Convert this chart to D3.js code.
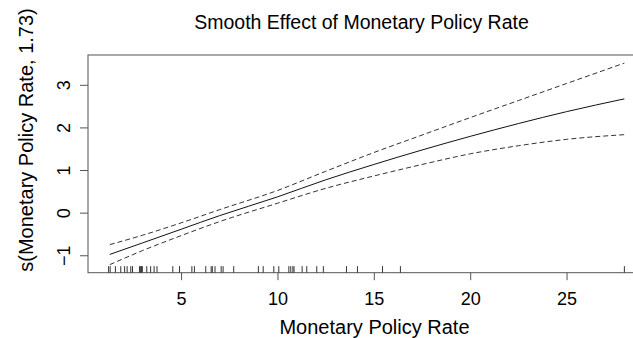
<!DOCTYPE html>
<html>
<head>
<meta charset="utf-8">
<script src="https://cdn.jsdelivr.net/npm/d3@7"></script>
<style>
  html, body { margin: 0; padding: 0; background: #fff; }
  svg { display: block; font-family: "Liberation Sans", Arial, sans-serif; }
</style>
</head>
<body>
<svg id="chart" width="633" height="338"></svg>
<script>
// Grid of the smooth term and its ±2 SE band
const rateGrid = [1.3, 3, 5, 7, 10, 12.5, 15, 17.5, 20, 22.5, 25, 28];
const smoothFit = [-0.98, -0.71, -0.39, -0.07, 0.37, 0.77, 1.13, 1.47, 1.79, 2.09, 2.37, 2.67];
const upperBand = [-0.75, -0.53, -0.24, 0.07, 0.52, 0.97, 1.41, 1.82, 2.23, 2.63, 3.03, 3.51];
const lowerBand = [-1.22, -0.89, -0.54, -0.21, 0.22, 0.57, 0.86, 1.13, 1.38, 1.57, 1.72, 1.83];

// Observed policy rates (rug)
const observedRates = [1.24, 1.32, 1.59, 1.87, 2.07, 2.2, 2.39, 2.48, 2.84, 2.9, 2.95, 2.99,
  3.22, 3.42, 3.6, 3.75, 4.57, 4.92, 5.56, 5.69, 6.28, 6.56, 6.62, 6.76, 7.08, 7.18, 7.73,
  9.01, 9.26, 9.81, 10.07, 10.59, 10.69, 10.8, 10.86, 11.28, 11.52, 12.04, 12.38,
  13.58, 14.15, 15.45, 16.38, 28.0];

const xTicks = [5, 10, 15, 20, 25];
const yTicks = [-1, 0, 1, 2, 3];

const titleText = "Smooth Effect of Monetary Policy Rate";
const xLabel = "Monetary Policy Rate";
const yLabel = "s(Monetary Policy Rate, 1.73)";

const svg = d3.select("#chart");
const plot = { left: 88, top: 55, right: 645, bottom: 272.7 };

// Axis ranges padded by 4% on each side
function padded(lo, hi) { const p = (hi - lo) * 0.04; return [lo - p, hi + p]; }
const xDom = padded(d3.min(observedRates), d3.max(observedRates));
const yDom = padded(d3.min(lowerBand), d3.max(upperBand));

const x = d3.scaleLinear().domain(xDom).range([plot.left, plot.right]);
const y = d3.scaleLinear().domain(yDom).range([plot.bottom, plot.top]);

const axisColor = "#555";
const fontFam = "Liberation Sans, Arial, sans-serif";

// Frame
svg.append("rect")
  .attr("x", plot.left).attr("y", plot.top)
  .attr("width", plot.right - plot.left).attr("height", plot.bottom - plot.top)
  .attr("fill", "none").attr("stroke", axisColor).attr("stroke-width", 1);

// Curves
const line = d3.line().x(d => x(d[0])).y(d => y(d[1])).curve(d3.curveMonotoneX);
const zip = vals => rateGrid.map((r, i) => [r, vals[i]]);

svg.append("path").attr("d", line(zip(smoothFit)))
  .attr("fill", "none").attr("stroke", "#111").attr("stroke-width", 1);
[upperBand, lowerBand].forEach(b => {
  svg.append("path").attr("d", line(zip(b)))
    .attr("fill", "none").attr("stroke", "#333").attr("stroke-width", 1)
    .attr("stroke-dasharray", "5,3");
});

// Rug
const rugLen = (plot.bottom - plot.top) * 0.03;
svg.append("g").selectAll("line").data(observedRates).join("line")
  .attr("x1", d => x(d)).attr("x2", d => x(d))
  .attr("y1", plot.bottom).attr("y2", plot.bottom - rugLen)
  .attr("stroke", "#333").attr("stroke-width", 1);

// X axis
const xAxis = svg.append("g").attr("transform", `translate(0,${plot.bottom})`)
  .call(d3.axisBottom(x).tickValues(xTicks).tickFormat(d3.format("d"))
    .tickSize(7.5).tickSizeOuter(0));
xAxis.select(".domain").remove();
xAxis.selectAll("line").attr("stroke", axisColor);
xAxis.selectAll("text").attr("font-size", 18).attr("fill", "#000")
  .attr("font-family", fontFam).attr("dy", null)
  .attr("y", 305 - plot.bottom);

// Y axis (labels parallel to the axis)
const yAxis = svg.append("g").attr("transform", `translate(${plot.left},0)`)
  .call(d3.axisLeft(y).tickValues(yTicks).tickFormat(d3.format("d"))
    .tickSize(8).tickSizeOuter(0));
yAxis.select(".domain").remove();
yAxis.selectAll("line").attr("stroke", axisColor);
yAxis.selectAll("text")
  .attr("font-size", 18).attr("fill", "#000")
  .attr("font-family", fontFam)
  .attr("x", null).attr("dy", null).attr("text-anchor", "middle")
  .attr("transform", "translate(-18,0) rotate(-90)");

// Titles
svg.append("text").attr("x", (plot.left + plot.right) / 2 - 5).attr("y", 29)
  .attr("text-anchor", "middle").attr("font-size", 19.5).text(titleText);
svg.append("text").attr("x", (plot.left + plot.right) / 2 + 8).attr("y", 334)
  .attr("text-anchor", "middle").attr("font-size", 20).text(xLabel);
svg.append("text").attr("transform", "translate(33,140) rotate(-90)")
  .attr("text-anchor", "middle").attr("font-size", 20).text(yLabel);
</script>
</body>
</html>
